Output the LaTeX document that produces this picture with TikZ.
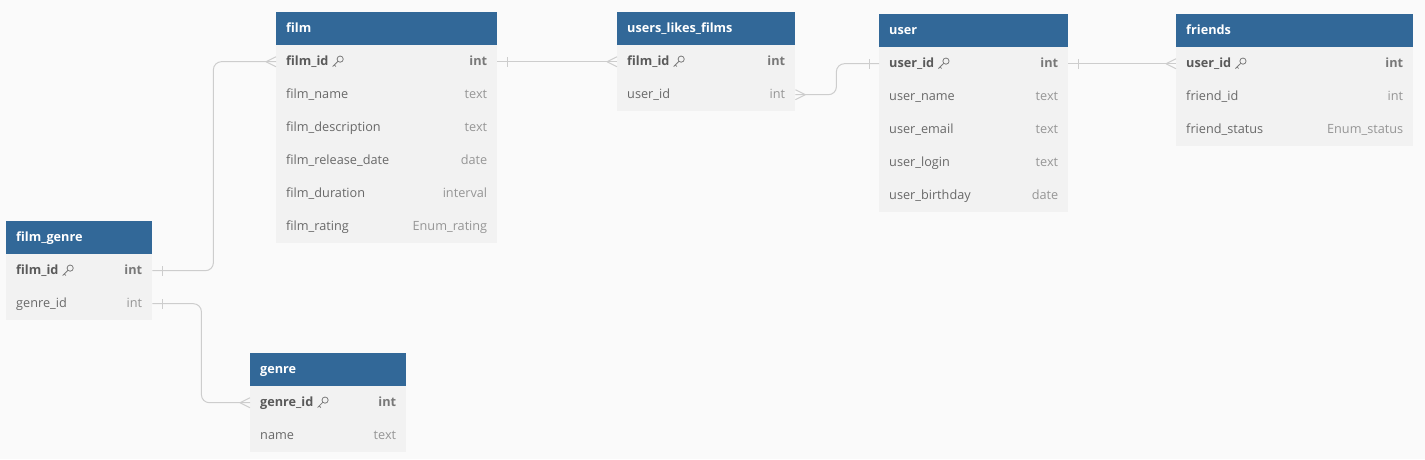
\documentclass[tikz,border=0pt]{standalone}
\usepackage{fontspec}
\setmainfont{Open Sans}
\definecolor{hdr}{RGB}{50,104,152}
\definecolor{rowbg}{RGB}{242,242,242}
\definecolor{bgc}{RGB}{250,250,250}
\definecolor{keytxt}{RGB}{90,90,90}
\definecolor{nametxt}{RGB}{105,105,105}
\definecolor{typetxt}{RGB}{150,150,150}
\definecolor{conncol}{RGB}{205,205,205}
\newcommand\rowfont{\fontsize{12.7}{15}\selectfont}
\tikzset{
 hdrbox/.style={fill=hdr, draw=none, anchor=north west, minimum height=33pt, inner sep=0pt},
 rowbox/.style={fill=rowbg, draw=none, anchor=north west, minimum height=33pt, inner sep=0pt},
 hdrtxt/.style={anchor=base west, inner sep=0pt, text=white, font=\rowfont\bfseries},
 nametext/.style={anchor=base west, inner sep=0pt, text=nametxt, font=\rowfont},
 keyname/.style={anchor=base west, inner sep=0pt, text=keytxt, font=\rowfont\bfseries},
 typetext/.style={anchor=base east, inner sep=0pt, text=typetxt, font=\rowfont},
 keytype/.style={anchor=base east, inner sep=0pt, text=typetxt!80!black, font=\rowfont\bfseries},
 keyicon/.style={draw=keytxt!80, line width=0.8pt},
 connline/.style={draw=conncol, line width=1pt},
}
\newcommand\ertable[6]{%
 \node[hdrbox, minimum width=#4pt] (#1-h) at (#2,#3) {};
 \node[hdrtxt] (#1-t) at ([xshift=10pt,yshift=-4pt]#1-h.west) {#5};
 \foreach[count=\i] \nm/\ty in {#6} {%
  \node[rowbox, minimum width=#4pt] (#1-r\i) at (#2,{#3+33*\i}) {};
  \ifnum\i=1
   \node[keyname] (#1-n\i) at ([xshift=10pt,yshift=-3.8pt]#1-r\i.west) {\nm};
   \node[keytype] (#1-y\i) at ([xshift=-10pt,yshift=-3.8pt]#1-r\i.east) {\ty};
   \draw[keyicon] ([xshift=11.5pt,yshift=6.4pt]#1-n\i.base east) circle (3.1pt);
   \draw[keyicon] ([xshift=9.3pt,yshift=4.2pt]#1-n\i.base east) -- ([xshift=4pt,yshift=-1pt]#1-n\i.base east)
     ([xshift=5.6pt,yshift=0.6pt]#1-n\i.base east) -- ([xshift=7.2pt,yshift=-1pt]#1-n\i.base east);
  \else
   \node[nametext] (#1-n\i) at ([xshift=10pt,yshift=-3.8pt]#1-r\i.west) {\nm};
   \node[typetext] (#1-y\i) at ([xshift=-10pt,yshift=-3.8pt]#1-r\i.east) {\ty};
  \fi
 }%
}
\newcommand\manymark[2]{%
 \draw[connline] ([xshift=#2*10pt]#1) -- ([yshift=5pt]#1) ([xshift=#2*10pt]#1) -- ([yshift=-5pt]#1);}
\newcommand\onemark[2]{%
 \draw[connline] ([xshift=#2*10pt,yshift=-5pt]#1) -- ([xshift=#2*10pt,yshift=5pt]#1);}
\begin{document}
\begin{tikzpicture}[x=1pt,y=-1pt]
\fill[bgc] (0,0) rectangle (1425,459);
\useasboundingbox (0,0) rectangle (1425,459);
\ertable{film}{276}{12}{221}{film}{film\_id/int, film\_name/text, film\_description/text, film\_release\_date/date, film\_duration/interval, film\_rating/Enum\_rating}
\ertable{ulf}{617}{12}{178}{users\_likes\_films}{film\_id/int, user\_id/int}
\ertable{user}{879}{14}{189}{user}{user\_id/int, user\_name/text, user\_email/text, user\_login/text, user\_birthday/date}
\ertable{fr}{1176}{14}{237}{friends}{user\_id/int, friend\_id/int, friend\_status/Enum\_status}
\ertable{fg}{6}{221}{146}{film\_genre}{film\_id/int, genre\_id/int}
\ertable{genre}{250}{353}{156}{genre}{genre\_id/int, name/text}
\draw[connline, rounded corners=8pt] (fg-r1.east) -- ++(61,0) |- (film-r1.west);
\draw[connline, rounded corners=8pt] (fg-r2.east) -- ++(49,0) |- (genre-r1.west);
\draw[connline] (film-r1.east) -- (ulf-r1.west);
\draw[connline, rounded corners=8pt] (ulf-r2.east) -- ++(41,0) |- (user-r1.west);
\draw[connline] (user-r1.east) -- (fr-r1.west);
\manymark{film-r1.west}{-1}
\onemark{fg-r1.east}{1}
\manymark{genre-r1.west}{-1}
\onemark{fg-r2.east}{1}
\onemark{film-r1.east}{1}
\manymark{ulf-r1.west}{-1}
\manymark{ulf-r2.east}{1}
\onemark{user-r1.west}{-1}
\onemark{user-r1.east}{1}
\manymark{fr-r1.west}{-1}
\end{tikzpicture}
\end{document}
